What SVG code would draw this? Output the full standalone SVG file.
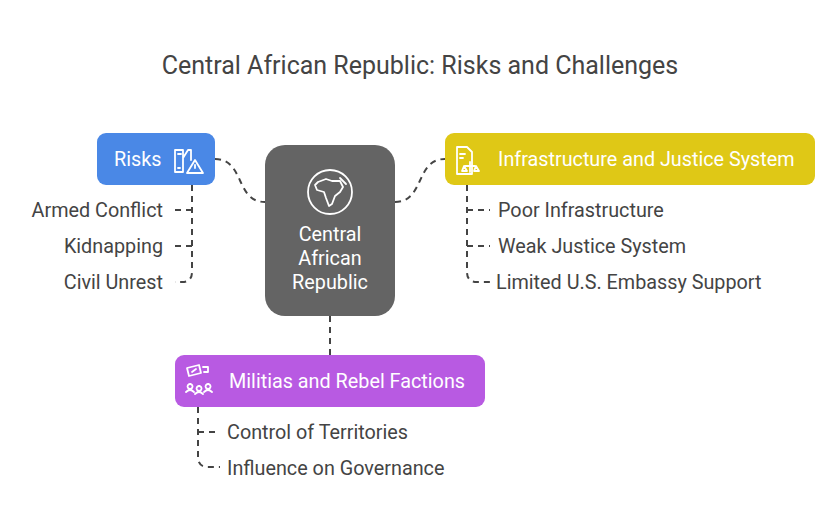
<svg xmlns="http://www.w3.org/2000/svg" width="840" height="528" viewBox="0 0 840 528">
<style>
text{font-family:Roboto,"Liberation Sans",sans-serif}
.t{font-size:25px;fill:#444}
.l{font-size:19.8px;fill:#444}
.h{font-size:19.8px;fill:#fff}
.c{fill:none;stroke:#444;stroke-width:2;stroke-dasharray:6,5}
.i{fill:none;stroke:#fff;stroke-width:1.8;stroke-linecap:round;stroke-linejoin:round}
</style>
<rect width="840" height="528" fill="#fff"/>
<text class="t" x="420" y="74" text-anchor="middle">Central African Republic: Risks and Challenges</text>
<g id="connectors">
<path class="c" d="M215,159 C245,159 235,202 265,202"/>
<path class="c" d="M395,202 C425,202 415,159 445,159"/>
<path class="c" d="M330,316 V355"/>
<path class="c" d="M192,185 V272 Q192,282 182,282 H175 M192,210 H175 M192,246 H175"/>
<path class="c" d="M467,185 V272 Q467,282 477,282 H490 M467,210 H490 M467,246 H490"/>
<path class="c" d="M198,407 V457 Q198,467 208,467 H220 M198,432 H220"/>
</g>
<g id="center">
<rect x="265" y="145" width="130" height="171" rx="20" fill="#646464"/>
<circle class="i" cx="330" cy="192" r="22"/>
<path class="i" d="M318,182 l8,-3 l6,2 l8,0 l3,6 l-3,5 l-5,4 l-3,8 l-3,2 l-3,-8 l-2,-6 l-7,-2 l-2,-5 z M340,178 l6,6"/>
<text class="h" x="330" y="241" text-anchor="middle">Central</text>
<text class="h" x="330" y="265" text-anchor="middle">African</text>
<text class="h" x="330" y="289" text-anchor="middle">Republic</text>
</g>
<g id="risks">
<rect x="97" y="133" width="118" height="52" rx="9" fill="#4a88e6"/>
<text class="h" x="114" y="166">Risks</text>
<path class="i" d="M175,172 V150 h8 v22 z M183,158 l5,-8 h3 v10 M178,154 h3 M178,168 h2 M195,160 l8,13 h-16 z M195,165 v3"/>
</g>
<g id="infra">
<rect x="445" y="133" width="370" height="52" rx="9" fill="#dfc816"/>
<path class="i" d="M457,147 h10 l5,5 v22 h-15 z M460,154 h5 M460,158 h3 M470,162 v10 M465,166 h10 M464,166 l-2,5 h5 z M476,166 l-2,5 h5 z"/>
<text class="h" x="498" y="166">Infrastructure and Justice System</text>
</g>
<g id="militias">
<rect x="175" y="355" width="310" height="52" rx="9" fill="#b85ae2"/>
<path class="i" d="M187,368 l12,-3 l2,8 l-12,3 z M192,372 l4,-3 M203,367 h5 v5 h-4 M190,384 a2.5,2.5 0 1 0 0.1,0 M199,386 a2.5,2.5 0 1 0 0.1,0 M208,384 a2.5,2.5 0 1 0 0.1,0 M186,392 q4,-4 8,0 M195,394 q4,-4 8,0 M204,392 q4,-4 8,0"/>
<text class="h" x="229" y="388">Militias and Rebel Factions</text>
</g>
<g id="risk-items">
<text class="l" x="163" y="217" text-anchor="end">Armed Conflict</text>
<text class="l" x="163" y="253" text-anchor="end">Kidnapping</text>
<text class="l" x="163" y="289" text-anchor="end">Civil Unrest</text>
</g>
<g id="infra-items">
<text class="l" x="498" y="217">Poor Infrastructure</text>
<text class="l" x="498" y="253">Weak Justice System</text>
<text class="l" x="496" y="289">Limited U.S. Embassy Support</text>
</g>
<g id="militia-items">
<text class="l" x="227" y="439">Control of Territories</text>
<text class="l" x="227" y="475">Influence on Governance</text>
</g>
</svg>
